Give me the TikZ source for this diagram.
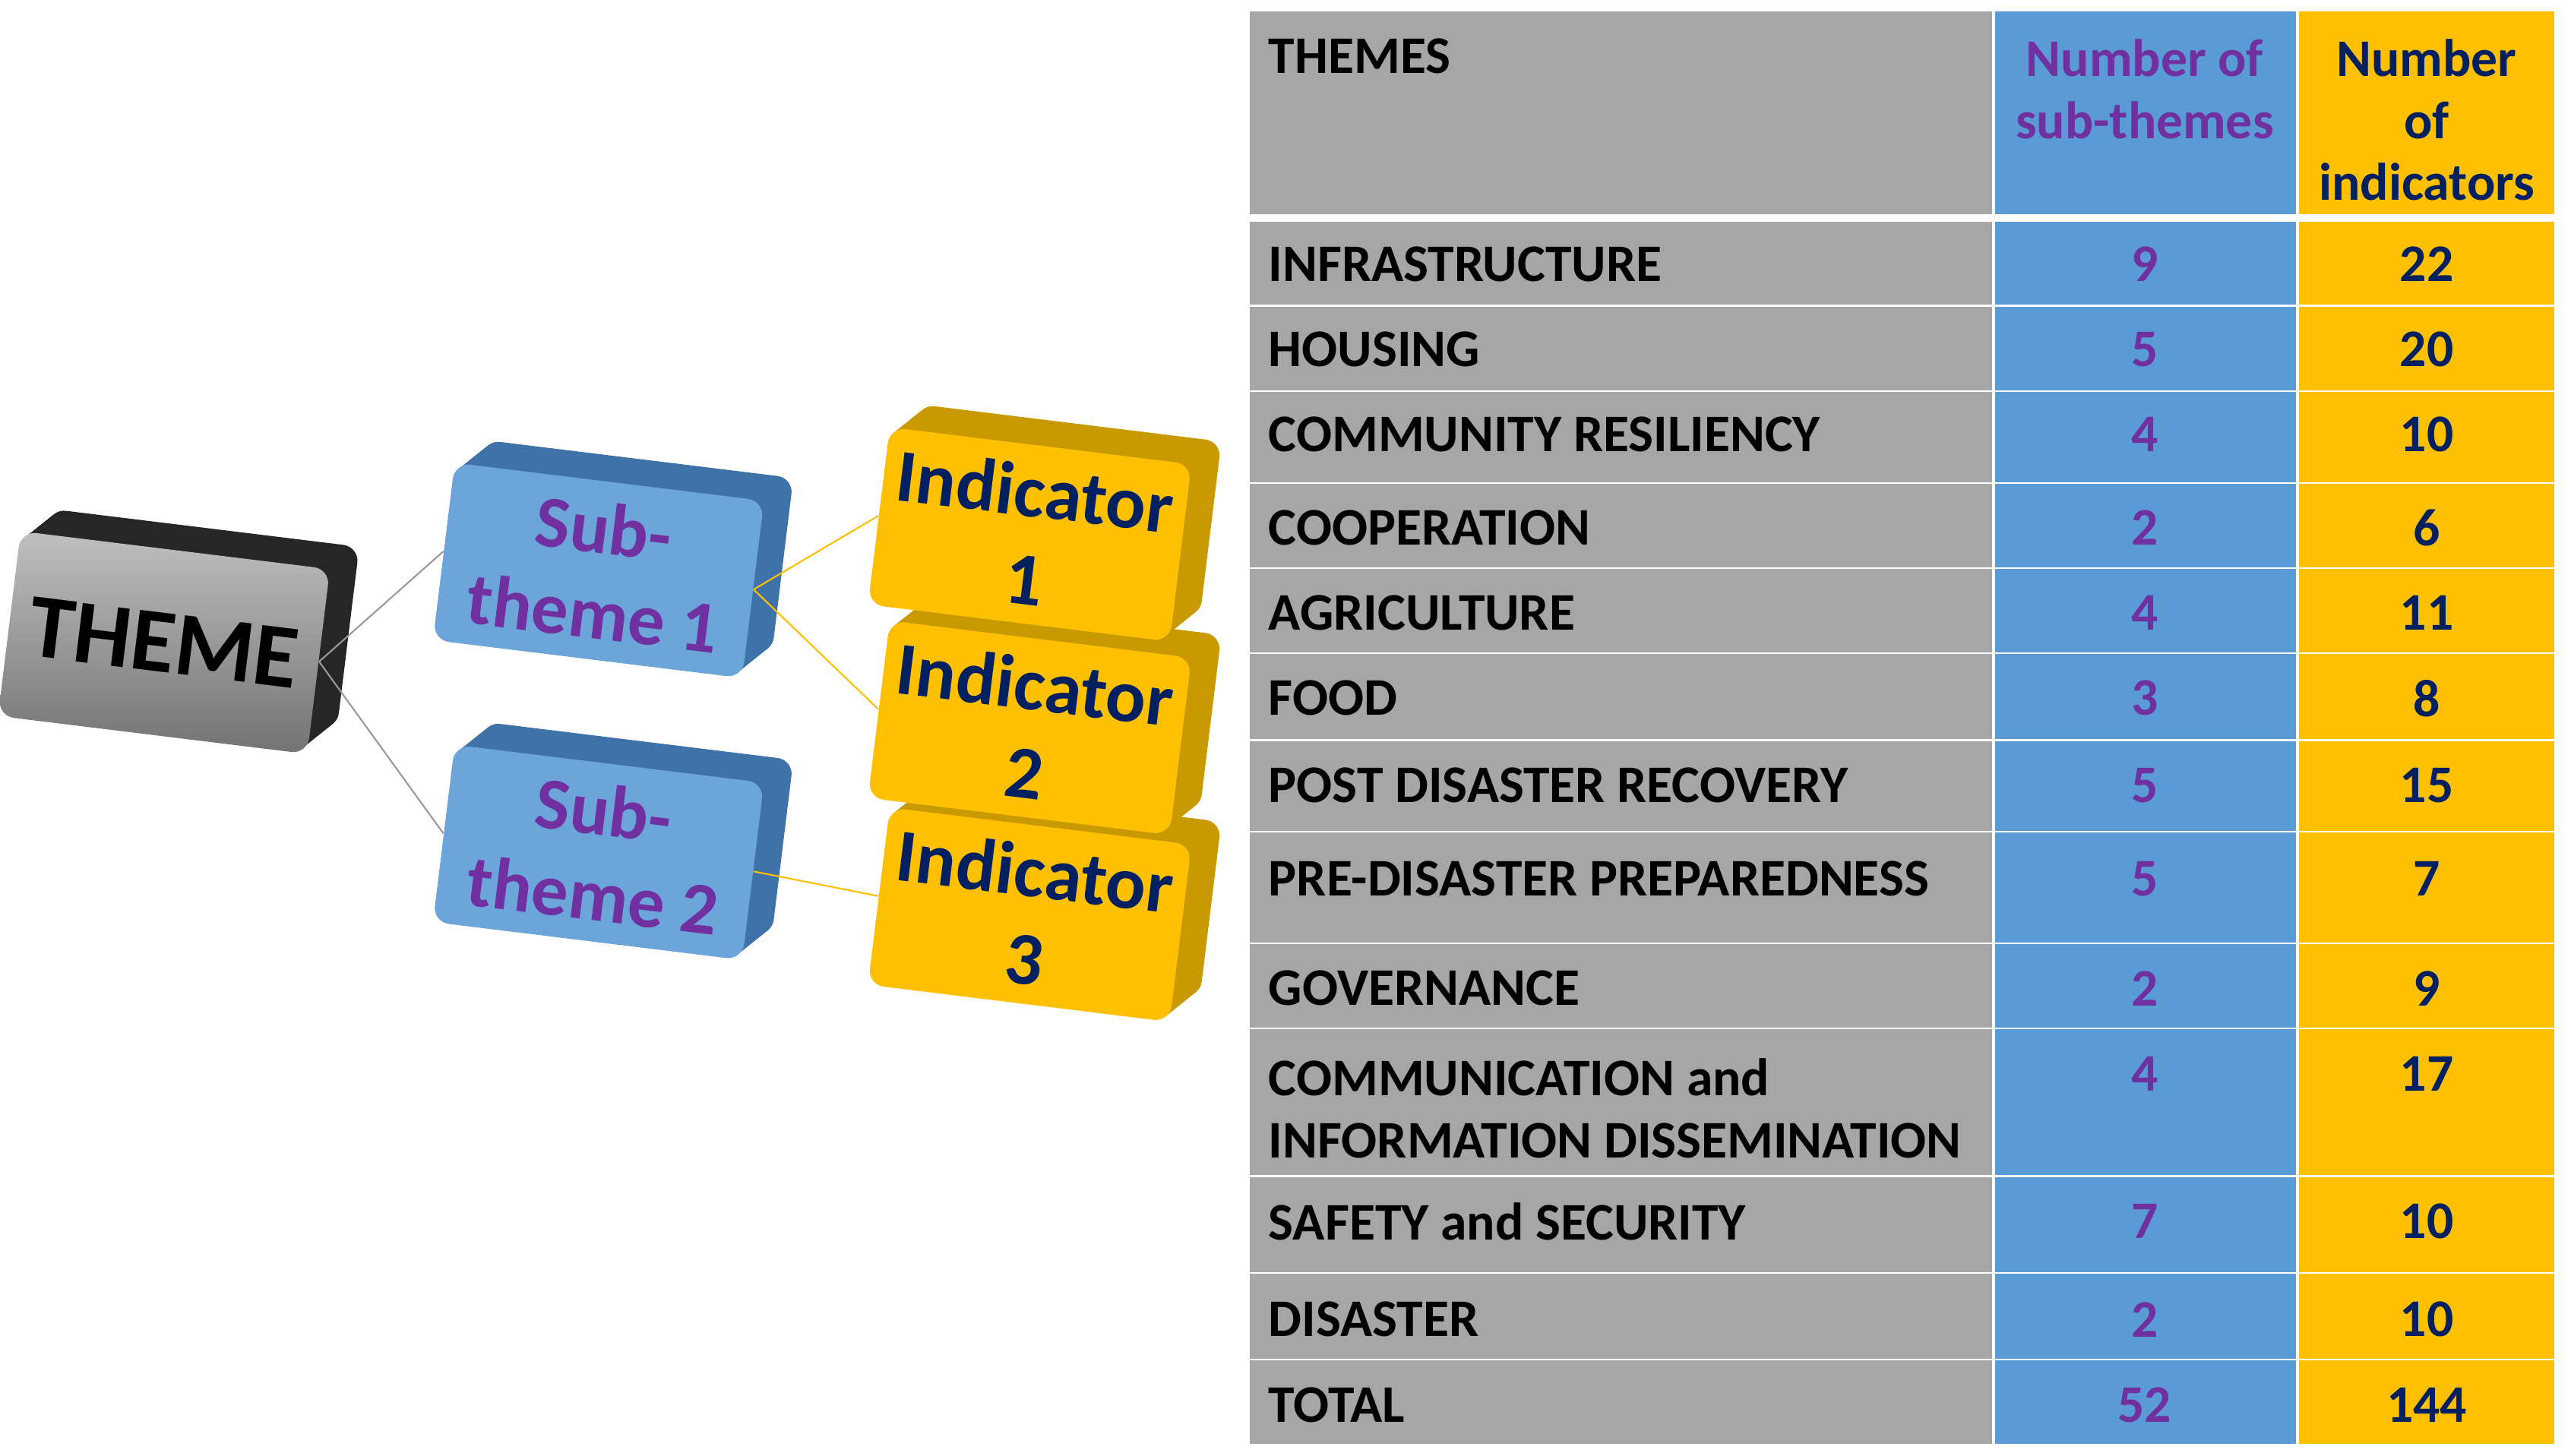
\documentclass[tikz,border=0pt]{standalone}
\usepackage{fontspec}
\setmainfont{Carlito}
\definecolor{tgray}{HTML}{A6A6A6}
\definecolor{tblue}{HTML}{5B9BD5}
\definecolor{tgold}{HTML}{FFC000}
\definecolor{tpurple}{HTML}{7030A0}
\definecolor{tnavy}{HTML}{002060}
\definecolor{dblue}{HTML}{3F72A8}
\definecolor{dgold}{HTML}{C99A00}
\begin{document}
\begin{tikzpicture}[x=0.02158cm,y=-0.02158cm,
  cell/.style={draw=white,line width=1.2pt},
  lab/.style={anchor=west,font=\bfseries\fontsize{19.8}{23.3}\selectfont,text=black,align=left},
  num/.style={font=\bfseries\fontsize{19.8}{23.3}\selectfont},
  box/.style={rotate=-7,rounded corners=6pt,inner sep=0pt,align=center,font=\bfseries\fontsize{27.5}{32}\selectfont},
  link/.style={line width=0.6pt}]
\useasboundingbox (0,0) rectangle (1568,888);
% ---------- table ----------
\def\xa{762}\def\xb{1216}\def\xc{1401}\def\xd{1558}
\foreach \t/\b in {7/134,134/187,187/239,239/295,295/347,347/399,399/452,452/508,508/576,576/628,628/718,718/777,777/830,830/882}{
  \fill[tgray] (\xa,\t) rectangle (\xb,\b);
  \fill[tblue] (\xb,\t) rectangle (\xc,\b);
  \fill[tgold] (\xc,\t) rectangle (\xd,\b);
  \draw[cell] (\xa,\b) -- (\xd,\b);
}
\draw[white,line width=3pt] (\xa,133) -- (\xd,133);
\draw[cell] (\xb,7) -- (\xb,882);
\draw[cell] (\xc,7) -- (\xc,882);
\node[lab,anchor=north west] (h1) at (768,18) {THEMES};
\node[num,text=tpurple,align=center,anchor=north] (h2) at (1308,18) {Number of\\sub-themes};
\node[num,text=tnavy,align=center,anchor=north] (h3) at (1480,18) {Number\\of\\indicators};
\foreach \n/\y/\t/\s/\i in {r1/161/INFRASTRUCTURE/9/22, r2/213/HOUSING/5/20, r3/265/COMMUNITY RESILIENCY/4/10,
  r4/322/COOPERATION/2/6, r5/374/AGRICULTURE/4/11, r6/426/FOOD/3/8, r7/479/POST DISASTER RECOVERY/5/15,
  r8/536/PRE-DISASTER PREPAREDNESS/5/7, r9/603/GOVERNANCE/2/9, r11/745/SAFETY and SECURITY/7/10,
  r12/805/DISASTER/2/10, r13/857/TOTAL/52/144}{
  \node[lab] (\n a) at (768,\y) {\t};
  \node[num,text=tpurple] (\n b) at (1308,\y) {\s};
  \node[num,text=tnavy] (\n c) at (1480,\y) {\i};
}
\node[lab,anchor=north west] (r10a) at (768,640) {COMMUNICATION and\\INFORMATION DISSEMINATION};
\node[num,text=tpurple] (r10b) at (1308,655) {4};
\node[num,text=tnavy] (r10c) at (1480,655) {17};
% ---------- 3D boxes (extrusion) ----------
\foreach \i in {1,...,18}{
  \fill[black!85,rounded corners=6pt,rotate around={-7:(100+\i,392-0.8*\i)}] (5+\i,336-0.8*\i) rectangle (195+\i,448-0.8*\i);
  \fill[dblue,rounded corners=6pt,rotate around={-7:(365+\i,348-0.8*\i)}] (270+\i,294-0.8*\i) rectangle (460+\i,402-0.8*\i);
  \fill[dblue,rounded corners=6pt,rotate around={-7:(365+\i,520-0.8*\i)}] (270+\i,466-0.8*\i) rectangle (460+\i,574-0.8*\i);
  \fill[dgold,rounded corners=6pt,rotate around={-7:(628+\i,326-0.8*\i)}] (535+\i,272-0.8*\i) rectangle (721+\i,380-0.8*\i);
  \fill[dgold,rounded corners=6pt,rotate around={-7:(628+\i,444-0.8*\i)}] (535+\i,390-0.8*\i) rectangle (721+\i,498-0.8*\i);
  \fill[dgold,rounded corners=6pt,rotate around={-7:(628+\i,558-0.8*\i)}] (535+\i,504-0.8*\i) rectangle (721+\i,612-0.8*\i);
}
\node[box,top color=black!25,bottom color=black!55,minimum width=4.1cm,minimum height=2.45cm,font=\bfseries\fontsize{34}{40}\selectfont] (theme) at (100,392) {THEME};
\node[box,fill=tblue!90!white,text=tpurple,minimum width=4.1cm,minimum height=2.35cm] (s1) at (365,348) {Sub-\\theme 1};
\node[box,fill=tblue!90!white,text=tpurple,minimum width=4.1cm,minimum height=2.35cm] (s2) at (365,520) {Sub-\\theme 2};
\node[box,fill=tgold,text=tnavy,minimum width=4.0cm,minimum height=2.35cm,font=\bfseries\fontsize{28}{33}\selectfont] (i1) at (628,326) {Indicator\\1};
\node[box,fill=tgold,text=tnavy,minimum width=4.0cm,minimum height=2.35cm,font=\bfseries\fontsize{28}{33}\selectfont] (i2) at (628,444) {Indicator\\2};
\node[box,fill=tgold,text=tnavy,minimum width=4.0cm,minimum height=2.35cm,font=\bfseries\fontsize{28}{33}\selectfont] (i3) at (628,558) {Indicator\\3};
\draw[link,black!40] (theme.east) -- (s1.west);
\draw[link,black!40] (theme.east) -- (s2.west);
\draw[link,tgold] (s1.east) -- (i1.west);
\draw[link,tgold] (s1.east) -- (i2.west);
\draw[link,tgold] (s2.east) -- (i3.west);
\end{tikzpicture}
\end{document}
